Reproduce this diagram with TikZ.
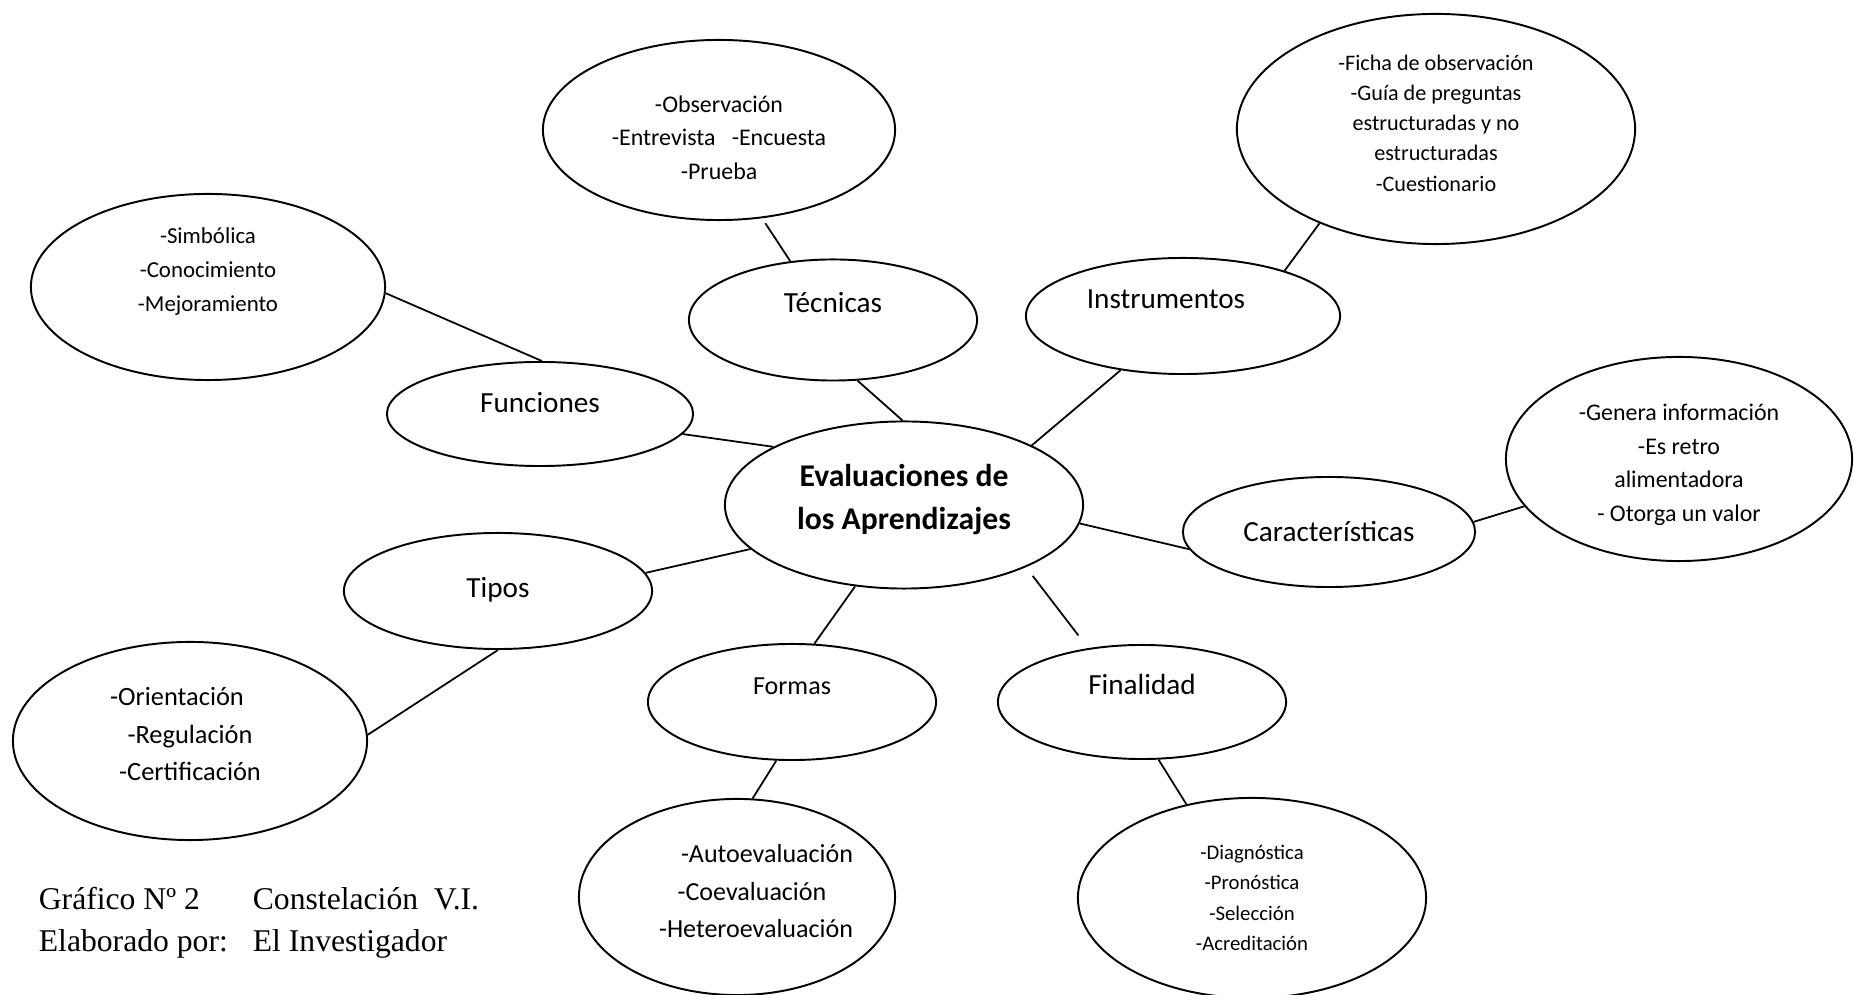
\documentclass[tikz,border=0pt]{standalone}
\usepackage{fontspec}
\setmainfont{Carlito}
\newfontfamily\creditfont{Liberation Serif}
\usepackage{tikz}
\usetikzlibrary{shapes}

\begin{document}
\begin{tikzpicture}[x=0.01cm,y=-0.01cm,line width=0.5pt,
    hub/.style={ellipse,draw,line width=0.55pt,inner sep=0pt,align=center,
      font=\fontsize{9}{12}\selectfont\bfseries},
    branch/.style={ellipse,draw,line width=0.55pt,inner sep=0pt,text height=0.2cm,
      font=\fontsize{8.3}{10}\selectfont},
    leaf/.style={ellipse,draw,line width=0.55pt,inner sep=0pt,align=center},
    credit/.style={anchor=base west,inner sep=0pt,align=left,
      font=\creditfont\fontsize{9}{12.2}\selectfont}
    ]
  \useasboundingbox (0,0) rectangle (1854,995);

  % centre and branches
  \path (904,505)  node[hub,minimum width=3.58cm,minimum height=1.67cm,text depth=0.16cm] (eval) {Evaluaciones de\\los Aprendizajes}
        (833,320)  node[branch,minimum width=2.88cm,minimum height=1.21cm,text depth=0.34cm] (tec) {Técnicas}
        (540,414)  node[branch,minimum width=3.06cm,minimum height=1.04cm,text depth=0.22cm] (fun) {Funciones}
        (1183,316) node[branch,minimum width=3.14cm,minimum height=1.16cm,text depth=0.34cm] (ins)
          {\hspace*{-0.17cm}Instrumentos\hspace*{0.17cm}}
        (1329,532) node[branch,minimum width=2.92cm,minimum height=1.10cm,text depth=0cm] (car) {Características}
        (498,591)  node[branch,minimum width=3.08cm,minimum height=1.16cm,text depth=0.06cm] (tip) {Tipos}
        (792,702)  node[branch,minimum width=2.88cm,minimum height=1.16cm,text depth=0.34cm,
                        font=\fontsize{7.4}{9}\selectfont] (form) {Formas}
        (1142,702) node[branch,minimum width=2.88cm,minimum height=1.14cm,text depth=0.34cm] (fin) {Finalidad};

  % outer ellipses
  \path (719,130)  node[leaf,minimum width=3.52cm,minimum height=1.80cm,text height=0.98cm,text depth=0cm,
                        font=\fontsize{6.8}{9.4}\selectfont] (tecx)
          {-Observación\\-Entrevista\ \ \ -Encuesta\\-Prueba}
        (208,287)  node[leaf,minimum width=3.54cm,minimum height=1.86cm,text depth=0.35cm,
                        font=\fontsize{6.5}{9.6}\selectfont] (funx)
          {-Simbólica\\-Conocimiento\\-Mejoramiento}
        (1436,129) node[leaf,minimum width=3.98cm,minimum height=2.30cm,text depth=0.12cm,
                        font=\fontsize{6.3}{8.6}\selectfont] (insx)
          {-Ficha de observación\\-Guía de preguntas\\estructuradas y no\\estructuradas\\-Cuestionario}
        (1679,459) node[leaf,minimum width=3.46cm,minimum height=2.04cm,text height=1.25cm,text depth=0cm,
                        font=\fontsize{6.8}{9.6}\selectfont] (carx)
          {-Genera información\\-Es retro\\alimentadora\\- Otorga un valor}
        (190,741)  node[leaf,minimum width=3.54cm,minimum height=1.98cm,text depth=0.14cm,
                        font=\fontsize{7.5}{10.7}\selectfont] (tipx)
          {\hspace*{-0.13cm}-Orientación\hspace*{0.13cm}\\-Regulación\\-Certificación}
        (737,897)  node[leaf,minimum width=3.16cm,minimum height=1.96cm,text depth=0.12cm,
                        font=\fontsize{7.4}{10.7}\selectfont] (formx)
          {\hspace*{0.3cm}-Autoevaluación\hspace*{-0.3cm}\\\hspace*{0.3cm}-Coevaluación\hspace*{-0.3cm}\\
           \hspace*{0.19cm}-Heteroevaluación\hspace*{-0.19cm}}
        (1252,898) node[leaf,minimum width=3.48cm,minimum height=2.00cm,font=\fontsize{5.9}{8.6}\selectfont] (finx)
          {-Diagnóstica\\-Pronóstica\\-Selección\\-Acreditación};

  % connectors
  \draw (funx.358) -- (fun.88);
  \draw (fun.352)  -- (eval.156);
  \draw[shorten <=0.06cm] (tecx.296) -- (tec.126);
  \draw (tec.292)  -- (eval.91);
  \draw (ins.24)   -- (insx.219);
  \draw (ins.221)  -- (eval.25);
  \draw (eval.354) -- (car.187);
  \draw (car.4)    -- (carx.197);
  \draw (tip.7)    -- (eval.196);
  \draw (tip.270)  -- (tipx.2);
  \draw (eval.239) -- (form.69);
  \draw (form.255) -- (formx.81);
  \draw[shorten <=0.11cm,shorten >=0.16cm] (eval.333) -- (fin.135);
  \draw (fin.286)  -- (finx.125);

  \path (38,952)  node[credit] (gra) {Gráfico Nº 2\\Elaborado por:}
        (252,952) node[credit] (con) {Constelación\ \ V.I.\\El Investigador};
\end{tikzpicture}
\end{document}
